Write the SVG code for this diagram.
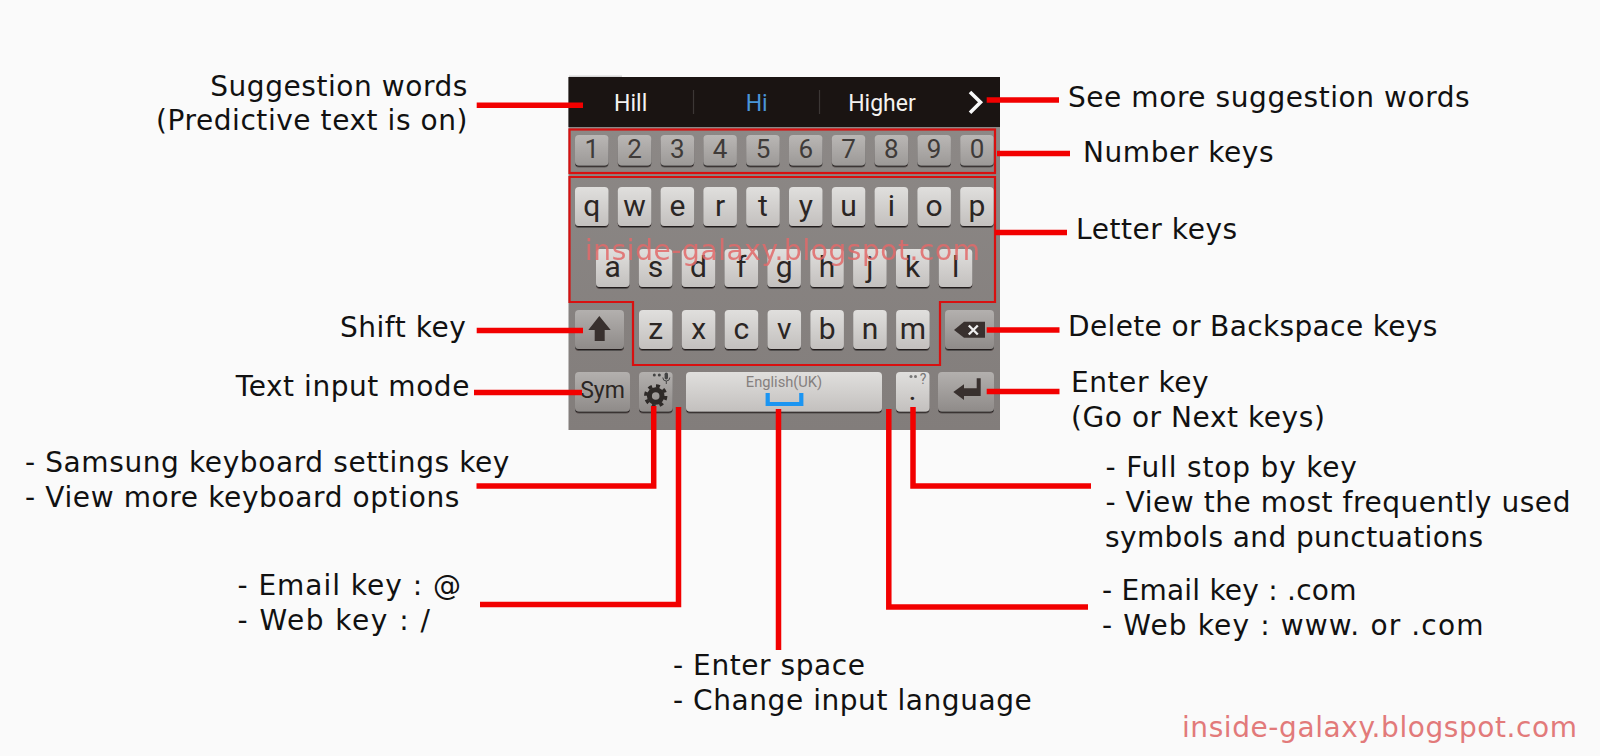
<svg xmlns="http://www.w3.org/2000/svg" width="1600" height="756" viewBox="0 0 1600 756">
<style>
.lbl{font-family:"DejaVu Sans",sans-serif;font-size:28px;letter-spacing:.56px;fill:#111}
.e{text-anchor:end}
.kt{font-family:Roboto,sans-serif;font-size:30px;fill:#2b2624;text-anchor:middle}
.nt{font-family:Roboto,sans-serif;font-size:26px;fill:#3f3b39;text-anchor:middle}
.st{font-family:Roboto,sans-serif;font-size:23px;fill:#f4f2f0;text-anchor:middle}
.wm{font-family:"DejaVu Sans",sans-serif;font-size:28px;letter-spacing:.58px;fill:#e26a6a}
.c{fill:none;stroke:#f20000;stroke-width:5.5}
.b{fill:none;stroke:#d81010;stroke-width:2.2}
.lk{fill:url(#lg)}.nk{fill:url(#ng)}.dk{fill:url(#dg)}
.k{filter:url(#sh)}
.ic{fill:#38302e}
</style>
<defs>
<linearGradient id="bg" x1="0" y1="0" x2="0" y2="1"><stop offset="0" stop-color="#8e8a88"/><stop offset="1" stop-color="#827d7b"/></linearGradient>
<linearGradient id="lg" x1="0" y1="0" x2="0" y2="1"><stop offset="0" stop-color="#e0dfdd"/><stop offset="1" stop-color="#c3c0be"/></linearGradient>
<linearGradient id="ng" x1="0" y1="0" x2="0" y2="1"><stop offset="0" stop-color="#bab7b5"/><stop offset="1" stop-color="#9c9997"/></linearGradient>
<linearGradient id="dg" x1="0" y1="0" x2="0" y2="1"><stop offset="0" stop-color="#b3b0ae"/><stop offset="1" stop-color="#8f8b89"/></linearGradient>
<filter id="sh" x="-10%" y="-10%" width="120%" height="125%"><feDropShadow dx="0" dy="1.5" stdDeviation="0.3" flood-color="#201c1a"/></filter>
</defs>
<rect width="1600" height="756" fill="#fafafa"/>
<g id="keyboard">
<rect x="569" y="75.5" width="53" height="1.5" fill="#d6d6d6"/>
<rect x="568.5" y="77" width="431.5" height="353" fill="url(#bg)"/>
<rect x="568.5" y="77" width="431.5" height="50" fill="#1a1412"/>
</g>
<g id="suggestion-bar">
<text class="st" x="630.7" y="111">Hill</text>
<text class="st" x="756.7" y="111" style="fill:#4a96d8">Hi</text>
<text class="st" x="882" y="111">Higher</text>
<path d="M693.5 90V114M819.5 90V114" stroke="#3c3735" stroke-width="1.2"/>
<path d="M970 92L980.5 102.3L970 112.7" fill="none" stroke="#f8f8f8" stroke-width="3.6"/>
</g>
<g id="number-keys">
<rect class="k nk" x="575" y="135" width="33.5" height="30.5" rx="4"/><text class="nt" x="591.75" y="158">1</text>
<rect class="k nk" x="617.8" y="135" width="33.5" height="30.5" rx="4"/><text class="nt" x="634.55" y="158">2</text>
<rect class="k nk" x="660.6" y="135" width="33.5" height="30.5" rx="4"/><text class="nt" x="677.35" y="158">3</text>
<rect class="k nk" x="703.4" y="135" width="33.5" height="30.5" rx="4"/><text class="nt" x="720.15" y="158">4</text>
<rect class="k nk" x="746.2" y="135" width="33.5" height="30.5" rx="4"/><text class="nt" x="762.95" y="158">5</text>
<rect class="k nk" x="789" y="135" width="33.5" height="30.5" rx="4"/><text class="nt" x="805.75" y="158">6</text>
<rect class="k nk" x="831.8" y="135" width="33.5" height="30.5" rx="4"/><text class="nt" x="848.55" y="158">7</text>
<rect class="k nk" x="874.6" y="135" width="33.5" height="30.5" rx="4"/><text class="nt" x="891.35" y="158">8</text>
<rect class="k nk" x="917.4" y="135" width="33.5" height="30.5" rx="4"/><text class="nt" x="934.15" y="158">9</text>
<rect class="k nk" x="960.2" y="135" width="33.5" height="30.5" rx="4"/><text class="nt" x="976.95" y="158">0</text>
</g>
<g id="letter-keys-row1">
<rect class="k lk" x="575" y="187" width="33.5" height="39" rx="4"/><text class="kt" x="591.75" y="215.5">q</text>
<rect class="k lk" x="617.8" y="187" width="33.5" height="39" rx="4"/><text class="kt" x="634.55" y="215.5">w</text>
<rect class="k lk" x="660.6" y="187" width="33.5" height="39" rx="4"/><text class="kt" x="677.35" y="215.5">e</text>
<rect class="k lk" x="703.4" y="187" width="33.5" height="39" rx="4"/><text class="kt" x="720.15" y="215.5">r</text>
<rect class="k lk" x="746.2" y="187" width="33.5" height="39" rx="4"/><text class="kt" x="762.95" y="215.5">t</text>
<rect class="k lk" x="789" y="187" width="33.5" height="39" rx="4"/><text class="kt" x="805.75" y="215.5">y</text>
<rect class="k lk" x="831.8" y="187" width="33.5" height="39" rx="4"/><text class="kt" x="848.55" y="215.5">u</text>
<rect class="k lk" x="874.6" y="187" width="33.5" height="39" rx="4"/><text class="kt" x="891.35" y="215.5">i</text>
<rect class="k lk" x="917.4" y="187" width="33.5" height="39" rx="4"/><text class="kt" x="934.15" y="215.5">o</text>
<rect class="k lk" x="960.2" y="187" width="33.5" height="39" rx="4"/><text class="kt" x="976.95" y="215.5">p</text>
</g>
<g id="letter-keys-row2">
<rect class="k lk" x="596" y="249" width="33.5" height="38" rx="4"/><text class="kt" x="612.75" y="276.5">a</text>
<rect class="k lk" x="638.85" y="249" width="33.5" height="38" rx="4"/><text class="kt" x="655.6" y="276.5">s</text>
<rect class="k lk" x="681.7" y="249" width="33.5" height="38" rx="4"/><text class="kt" x="698.45" y="276.5">d</text>
<rect class="k lk" x="724.55" y="249" width="33.5" height="38" rx="4"/><text class="kt" x="741.3" y="276.5">f</text>
<rect class="k lk" x="767.4" y="249" width="33.5" height="38" rx="4"/><text class="kt" x="784.15" y="276.5">g</text>
<rect class="k lk" x="810.25" y="249" width="33.5" height="38" rx="4"/><text class="kt" x="827" y="276.5">h</text>
<rect class="k lk" x="853.1" y="249" width="33.5" height="38" rx="4"/><text class="kt" x="869.85" y="276.5">j</text>
<rect class="k lk" x="895.95" y="249" width="33.5" height="38" rx="4"/><text class="kt" x="912.7" y="276.5">k</text>
<rect class="k lk" x="938.8" y="249" width="33.5" height="38" rx="4"/><text class="kt" x="955.55" y="276.5">l</text>
</g>
<g id="letter-keys-row3">
<rect class="k lk" x="639" y="310" width="33.5" height="39" rx="4"/><text class="kt" x="655.75" y="339">z</text>
<rect class="k lk" x="681.85" y="310" width="33.5" height="39" rx="4"/><text class="kt" x="698.6" y="339">x</text>
<rect class="k lk" x="724.7" y="310" width="33.5" height="39" rx="4"/><text class="kt" x="741.45" y="339">c</text>
<rect class="k lk" x="767.55" y="310" width="33.5" height="39" rx="4"/><text class="kt" x="784.3" y="339">v</text>
<rect class="k lk" x="810.4" y="310" width="33.5" height="39" rx="4"/><text class="kt" x="827.15" y="339">b</text>
<rect class="k lk" x="853.25" y="310" width="33.5" height="39" rx="4"/><text class="kt" x="870" y="339">n</text>
<rect class="k lk" x="896.1" y="310" width="33.5" height="39" rx="4"/><text class="kt" x="912.85" y="339">m</text>
</g>
<g id="shift-key">
<rect class="k dk" x="575" y="310" width="49" height="39" rx="4"/>
<path class="ic" d="M599.3 316L610.7 330H604.7V341H594.7V330H588.3Z"/>
</g>
<g id="delete-key">
<rect class="k dk" x="945" y="310" width="49" height="39" rx="4"/>
<path class="ic" d="M954 330L964 321.7H985V337.7H964Z"/>
<path d="M968.8 325.5L977.8 334.5M977.8 325.5L968.8 334.5" stroke="#eeeeee" stroke-width="2.4"/>
</g>
<g id="sym-key">
<rect class="k dk" x="575" y="372" width="55" height="39.5" rx="4"/>
<text class="kt" x="602.5" y="398" style="font-size:23px">Sym</text>
</g>
<g id="settings-key">
<rect class="k dk" x="639" y="372" width="33.7" height="39.5" rx="4"/>
<circle cx="655.7" cy="396" r="6.3" fill="none" stroke="#2e2a28" stroke-width="5"/>
<circle cx="655.7" cy="396" r="10" fill="none" stroke="#2e2a28" stroke-width="3.4" stroke-dasharray="3.9 3.95"/>
<circle cx="654.3" cy="375" r="1.5" fill="#444"/><circle cx="659.3" cy="375" r="1.5" fill="#444"/>
<rect x="664.6" y="372.5" width="3.4" height="7" rx="1.7" fill="#444"/>
<path d="M662.8 377.5a3.5 3.5 0 0 0 7 0M666.3 381v3" fill="none" stroke="#444" stroke-width="1"/>
</g>
<g id="space-key">
<rect class="k lk" x="686" y="372" width="196" height="39.5" rx="4"/>
<text x="784" y="387.3" text-anchor="middle" style="font-family:Roboto,sans-serif;font-size:14.7px;fill:#85807e">English(UK)</text>
<path d="M767.7 393V404H801.3V393" fill="none" stroke="#1b95f2" stroke-width="4.2"/>
</g>
<g id="period-key">
<rect class="k lk" x="896" y="372" width="33.5" height="39.5" rx="4"/>
<circle cx="911" cy="376.5" r="1.5" fill="#777"/><circle cx="915.5" cy="376.5" r="1.5" fill="#777"/>
<text x="923" y="384" text-anchor="middle" style="font-family:Roboto,sans-serif;font-size:14px;fill:#777">?</text>
<text x="912.5" y="400" text-anchor="middle" style="font-family:Roboto,sans-serif;font-size:22px;font-weight:700;fill:#2f2a28">.</text>
</g>
<g id="enter-key">
<rect class="k dk" x="938" y="372" width="56" height="39.5" rx="4"/>
<path class="ic" d="M953.3 392L964 384.3V388.3H976.7V378.3H980.7V396H964V400Z"/>
</g>
<g id="highlights">
<rect class="b" x="569.5" y="129.5" width="425.5" height="43.5"/>
<path class="b" d="M569.5 177H995V302H940V365H633V302H569.5Z"/>
</g>
<text id="watermark-keyboard" class="wm" x="585" y="260" opacity="0.85">inside-galaxy.blogspot.com</text>
<g id="connectors">
<path class="c" d="M476.7 105.3H583"/>
<path class="c" d="M986.7 100H1059"/>
<path class="c" d="M997 153.5H1070"/>
<path class="c" d="M995 232.5H1067"/>
<path class="c" d="M476.7 330.5H583"/>
<path class="c" d="M986.7 330H1059.5"/>
<path class="c" d="M474 392.5H582"/>
<path class="c" d="M986.7 391.5H1059.5"/>
<path class="c" d="M653.7 406V486H476.5"/>
<path class="c" d="M678.5 407V604.5H480"/>
<path class="c" d="M778.5 409V650"/>
<path class="c" d="M913 407V486H1091"/>
<path class="c" d="M888.8 409V607H1088"/>
</g>
<g id="labels">
<g id="label-suggestion"><text class="lbl e" x="468" y="95.7">Suggestion words</text><text class="lbl e" x="468" y="130">(Predictive text is on)</text></g>
<text id="label-shift" class="lbl e" x="466.5" y="336.7">Shift key</text>
<text id="label-mode" class="lbl e" x="470" y="395.7">Text input mode</text>
<text id="label-more" class="lbl" x="1068" y="106.7">See more suggestion words</text>
<text id="label-number" class="lbl" x="1083" y="161.7">Number keys</text>
<text id="label-letter" class="lbl" x="1076" y="239">Letter keys</text>
<text id="label-delete" class="lbl" x="1068" y="335.7" textLength="370">Delete or Backspace keys</text>
<g id="label-enter"><text class="lbl" x="1071" y="392">Enter key</text><text class="lbl" x="1071" y="427.3">(Go or Next keys)</text></g>
<g id="label-settings"><text class="lbl" x="25" y="471.7" textLength="485">- Samsung keyboard settings key</text><text class="lbl" x="25" y="506.7" textLength="435">- View more keyboard options</text></g>
<g id="label-at"><text class="lbl" x="237.5" y="595" textLength="224">- Email key : @</text><text class="lbl" x="237.5" y="630" textLength="193">- Web key : /</text></g>
<g id="label-space"><text class="lbl" x="673" y="675">- Enter space</text><text class="lbl" x="673" y="710">- Change input language</text></g>
<g id="label-stop"><text class="lbl" x="1105.5" y="477.3" textLength="252">- Full stop by key</text><text class="lbl" x="1105.5" y="511.7">- View the most frequently used</text><text class="lbl" x="1105" y="546.7" textLength="378.6">symbols and punctuations</text></g>
<g id="label-com"><text class="lbl" x="1102" y="600" textLength="255">- Email key : .com</text><text class="lbl" x="1102" y="635" textLength="382">- Web key : www. or .com</text></g>
</g>
<text id="watermark" class="wm" x="1182" y="736.7" style="fill:#e27a7a">inside-galaxy.blogspot.com</text>
</svg>
